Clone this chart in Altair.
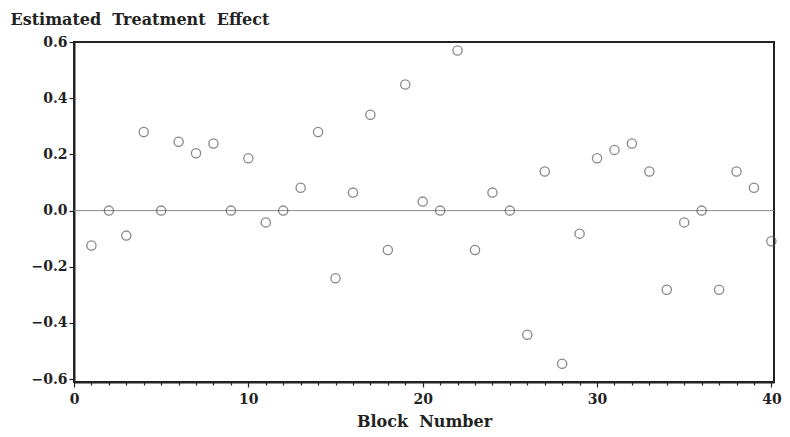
import altair as alt
import pandas as pd

blocks = list(range(1, 41))
effects = [-0.124, 0.0, -0.089, 0.280, 0.0, 0.245, 0.204, 0.239, 0.0, 0.186,
           -0.042, 0.0, 0.081, 0.280, -0.241, 0.064, 0.341, -0.140, 0.449, 0.032,
           0.0, 0.570, -0.140, 0.064, 0.0, -0.442, 0.139, -0.545, -0.082, 0.186,
           0.216, 0.239, 0.139, -0.282, -0.042, 0.0, -0.282, 0.139, 0.081, -0.109]
y_ticks = [-0.6, -0.4, -0.2, 0.0, 0.2, 0.4, 0.6]
x_ticks = list(range(0, 41))

df = pd.DataFrame({"block": blocks, "effect": effects})

FONT = "DejaVu Serif"
INK = "#222222"
SP = " \u00a0"

x_enc = alt.X(
    "block:Q",
    scale=alt.Scale(domain=[0, 40.15], nice=False, zero=False),
    axis=alt.Axis(
        title="Block" + SP + "Number",
        values=x_ticks,
        labelExpr="datum.value % 10 === 0 ? datum.label : ''",
        tickSize={"condition": {"test": "datum.value % 10 === 0", "value": 5}, "value": 3},
        labelFlush=False,
        labelOverlap=False,
        labelPadding=5,
        grid=False,
        titleY=44,
        titleBaseline="alphabetic",
    ),
)
y_enc = alt.Y(
    "effect:Q",
    scale=alt.Scale(domain=[-0.61, 0.6], nice=False, zero=False),
    axis=alt.Axis(
        title="Estimated" + SP + "Treatment" + SP + "Effect",
        values=y_ticks,
        format=".1f",
        tickSize=5,
        labelFlush=False,
        labelPadding=2,
        grid=False,
        titleAngle=0,
        titleAlign="left",
        titleX=-64,
        titleY=-18,
        titleBaseline="alphabetic",
    ),
)

points = alt.Chart(df).mark_point(
    shape="circle", filled=False, size=85, stroke="#555555", strokeWidth=1.3
).encode(x=x_enc, y=y_enc)

zero_line = alt.Chart(pd.DataFrame({"z": [0.0]})).mark_rule(
    color="#888888", strokeWidth=1
).encode(y=alt.Y("z:Q"))

chart = alt.layer(zero_line, points).properties(
    width=700,
    height=340,
    autosize=alt.AutoSizeParams(type="none"),
    padding={"left": 66, "top": 34, "right": 8, "bottom": 47},
).configure_view(
    stroke=INK, strokeWidth=2
).configure_axis(
    domainColor=INK,
    domainWidth=2,
    tickColor=INK,
    tickWidth=1.2,
    labelFont=FONT,
    labelFontWeight="bold",
    labelFontSize=14,
    labelColor=INK,
    titleFont=FONT,
    titleFontWeight="bold",
    titleFontSize=16,
    titleColor=INK,
)

chart.save("out.html", embed_options={"renderer": "svg", "actions": False})
